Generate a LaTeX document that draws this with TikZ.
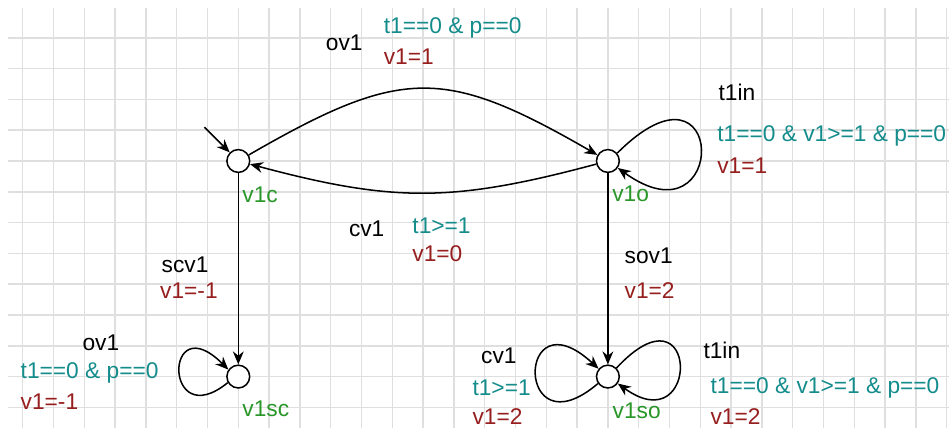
\documentclass[tikz,border=0pt]{standalone}
\usepackage{fontspec}
\setmainfont{Liberation Sans}
\usetikzlibrary{arrows.meta,automata}

\definecolor{guardc}{RGB}{20,140,140}
\definecolor{assignc}{RGB}{150,30,30}
\definecolor{locc}{RGB}{40,150,40}

\tikzset{
  every state/.style={draw,fill=white,minimum size=3.7mm,inner sep=0pt},
  lbl/.style={anchor=base west,inner sep=0pt,font=\fontsize{10.5}{12}\selectfont},
  sync/.style={lbl,black},
  guard/.style={lbl,text=guardc},
  assign/.style={lbl,text=assignc},
  locname/.style={lbl,text=locc}
}

\begin{document}
\begin{tikzpicture}[->,>={Stealth[length=6pt,width=5pt]},x=0.5cm,y=0.5cm,line width=0.7pt]
\useasboundingbox[fill=white] (-0.737,0.227) rectangle (30.075,-13.669);
\draw[-,gray!25,line width=0.7pt,step=1] (-0.48,-0.03) grid (30.08,-13.67);

\node[state](v1c) at (7,-5) {};
\node[state](v1o) at (19,-5) {};
\node[state](v1sc) at (7,-12) {};
\node[state](v1so) at (19,-12) {};
\coordinate (init) at (5.9,-3.9);

\draw (init) -- (v1c);
\draw (v1c) edge[bend left=30,looseness=1.3] (v1o);
\draw (v1o) edge[bend left=15,looseness=1.1] (v1c);
\draw (v1c) -- (v1sc);
\draw (v1o) -- (v1so);

% self loops
\draw (v1o.40) .. controls +(3.6,3.6) and +(3.6,-2.6) .. (v1o.-35);
\draw (v1sc.210) .. controls +(-2.1,-1.7) and +(-2.1,2.1) .. (v1sc.145);
\draw (v1so.215) .. controls +(-2.7,-2.3) and +(-2.7,2.5) .. (v1so.140);
\draw (v1so.45) .. controls +(2.7,2.9) and +(2.7,-1.95) .. (v1so.-35);

\node[locname](n1) at (7.11,-6.34) {v1c};
\node[locname](n2) at (19.12,-6.32) {v1o};
\node[locname](n3) at (7.11,-13.30) {v1sc};
\node[locname](n4) at (19.13,-13.35) {v1so};

\node[sync](s1) at (9.82,-1.40) {ov1};
\node[guard](g1) at (11.70,-0.85) {t1==0 \& p==0};
\node[assign](a1) at (11.70,-1.88) {v1=1};

\node[sync](s2) at (10.57,-7.44) {cv1};
\node[guard](g2) at (12.63,-7.35) {t1>=1};
\node[assign](a2) at (12.63,-8.27) {v1=0};

\node[sync](s3) at (22.57,-3.04) {t1in};
\node[guard](g3) at (22.53,-4.37) {t1==0 \& v1>=1 \& p==0};
\node[assign](a3) at (22.53,-5.40) {v1=1};

\node[sync](s4) at (4.49,-8.63) {scv1};
\node[assign](a4) at (4.44,-9.48) {v1=-1};

\node[sync](s5) at (19.52,-8.32) {sov1};
\node[assign](a5) at (19.52,-9.45) {v1=2};

\node[sync](s6) at (1.92,-11.16) {ov1};
\node[guard](g6) at (-0.09,-12.06) {t1==0 \& p==0};
\node[assign](a6) at (-0.09,-13.08) {v1=-1};

\node[sync](s7) at (14.86,-11.59) {cv1};
\node[guard](g7) at (14.58,-12.63) {t1>=1};
\node[assign](a7) at (14.58,-13.54) {v1=2};

\node[sync](s8) at (22.08,-11.41) {t1in};
\node[guard](g8) at (22.31,-12.56) {t1==0 \& v1>=1 \& p==0};
\node[assign](a8) at (22.31,-13.54) {v1=2};
\end{tikzpicture}
\end{document}
